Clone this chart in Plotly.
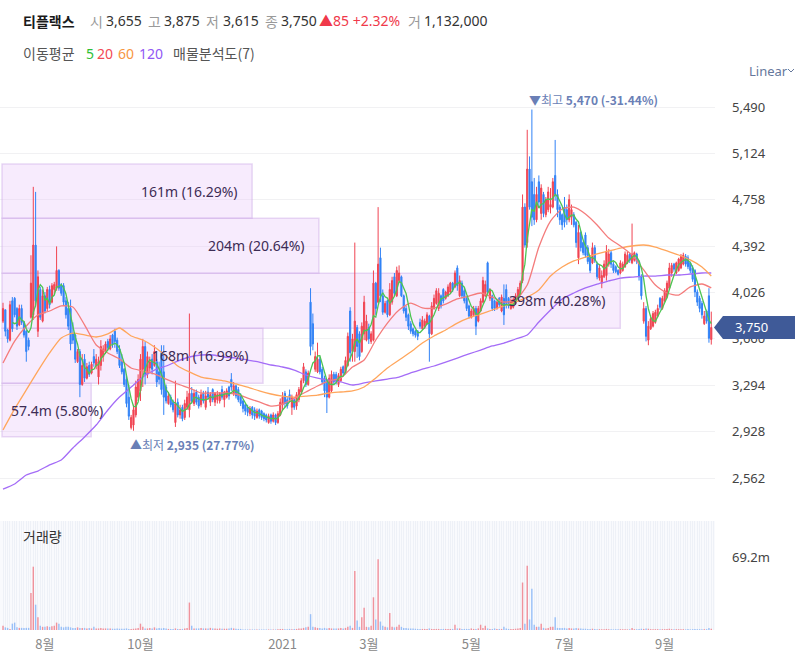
import plotly.graph_objects as go
import pandas as pd

# ---------------- data ----------------
open_ = [
    3800, 3890, 3730, 3650, 3960, 3980, 3900, 3770, 3900, 3790,
    3720, 3650, 3830, 3850, 4400, 3720, 4050, 3800, 4000, 3900,
    4050, 3950, 4050, 4060, 4200, 4080, 4080, 3960, 3900, 3900,
    3700, 3690, 3480, 3560, 3300, 3500, 3350, 3450, 3390, 3520,
    3450, 3360, 3450, 3520, 3560, 3640, 3580, 3690, 3720, 3650,
    3580, 3480, 3420, 3340, 3200, 2960, 2980, 3060, 3200, 3250,
    3420, 3600, 3380, 3430, 3500, 3450, 3480, 3400, 3550, 3400,
    3280, 3150, 3200, 3160, 3000, 3160, 3060, 3120, 3040, 3120,
    3100, 3230, 3150, 3240, 3200, 3140, 3230, 3120, 3240, 3160,
    3260, 3160, 3180, 3170, 3260, 3180, 3200, 3280, 3340, 3230,
    3290, 3260, 3210, 3170, 3140, 3120, 3070, 3120, 3100, 3040,
    3100, 3090, 3070, 3060, 3000, 3060, 3010, 3060, 3000, 3060,
    3140, 3230, 3180, 3220, 3120, 3180, 3130, 3180, 3240, 3330,
    3400, 3300, 3950, 3780, 3420, 3400, 3500, 3420, 3350, 3330,
    3200, 3250, 3380, 3380, 3300, 3330, 3440, 3390, 3450, 3880,
    3560, 3560, 3750, 3700, 3560, 3700, 3650, 3750, 3640, 3650,
    4100, 3950, 4300, 4000, 3870, 3960, 3850, 3950, 4150, 4000,
    4120, 4150, 4000, 3900, 3850, 3780, 3740, 3720, 3720, 3790,
    3740, 3760, 3780, 3840, 3700, 3900, 3940, 3900, 4000, 4050,
    3980, 4000, 4030, 4100, 4070, 4220, 4000, 4100, 4040, 3980,
    3920, 3830, 3850, 3900, 3800, 3880, 3950, 4000, 4260, 3980,
    4000, 3960, 3900, 3980, 3880, 3980, 4050, 3980, 3900, 3910,
    3940, 3980, 4010, 4120, 4700, 4420, 5000, 4900, 4800, 4600,
    4900, 4650, 4800, 4640, 4680, 4700, 4700, 4950, 4800, 4700,
    4640, 4700, 4680, 4600, 4620, 4640, 4580, 4300, 4500, 4420,
    4480, 4380, 4300, 4260, 4380, 4250, 4140, 4100, 4150, 4160,
    4250, 4340, 4250, 4230, 4200, 4180, 4200, 4230, 4260, 4330,
    4260, 4280, 4330, 4270, 4150, 3800, 3900, 3650, 3740, 3760,
    3790, 3840, 3980, 3900, 3960, 3990, 4060, 4180, 4250, 4180,
    4200, 4220, 4250, 4310, 4300, 4260, 4220, 4200, 4030, 3980,
    3940, 3780, 3880, 4000, 3655,
]
high = [
    3945, 3890, 3740, 3960, 3990, 3990, 3910, 3930, 3930, 3800,
    3730, 3670, 4320, 4860, 4820, 4200, 4070, 4050, 4030, 4070,
    4080, 4100, 4110, 4390, 4210, 4100, 4100, 3990, 3950, 3970,
    3790, 3700, 3580, 3580, 3540, 3540, 3470, 3480, 3480, 3580,
    3540, 3520, 3650, 3610, 3640, 3660, 3690, 3700, 3740, 3670,
    3610, 3540, 3430, 3380, 3300, 3060, 3140, 3330, 3380, 3540,
    3660, 3640, 3560, 3520, 3540, 3610, 3500, 3480, 3610, 3610,
    3300, 3240, 3220, 3180, 3330, 3190, 3140, 3140, 3180, 3250,
    3860, 3280, 3260, 3260, 3220, 3260, 3250, 3250, 3280, 3240,
    3270, 3240, 3250, 3240, 3290, 3250, 3270, 3290, 3390, 3320,
    3300, 3280, 3230, 3180, 3150, 3140, 3130, 3130, 3120, 3110,
    3110, 3100, 3080, 3070, 3070, 3070, 3080, 3070, 3090, 3190,
    3240, 3250, 3200, 3260, 3220, 3190, 3240, 3280, 3350, 3470,
    3420, 3410, 4060, 3860, 3560, 3630, 3520, 3440, 3370, 3335,
    3380, 3410, 3400, 3400, 3390, 3440, 3450, 3520, 3710, 3910,
    3700, 4420, 3770, 3720, 3790, 4000, 3850, 3780, 3720, 4200,
    4110, 4700, 4380, 4050, 3960, 3970, 4100, 4150, 4180, 4230,
    4240, 4160, 4010, 3920, 3860, 3800, 3750, 3730, 3730, 3820,
    3840, 3820, 3870, 3850, 3950, 4010, 4060, 4060, 4010, 4060,
    4040, 4090, 4110, 4110, 4200, 4240, 4160, 4120, 4060, 3990,
    3930, 3900, 3920, 3920, 3920, 3980, 4150, 4120, 4270, 4060,
    4010, 3970, 3960, 3990, 4010, 4090, 4090, 3990, 3980, 3990,
    4020, 4070, 4120, 4800, 4730, 5310, 5100, 5470, 4930, 4860,
    4950, 4880, 4820, 4780, 4860, 4850, 4930, 5230, 4840, 4720,
    4650, 4780, 4720, 4800, 4720, 4660, 4590, 4560, 4510, 4430,
    4500, 4400, 4310, 4420, 4400, 4270, 4250, 4200, 4280, 4400,
    4370, 4360, 4270, 4240, 4210, 4280, 4270, 4350, 4350, 4340,
    4570, 4350, 4340, 4280, 4170, 3950, 3920, 3800, 3850, 3880,
    3890, 3930, 3990, 4000, 4060, 4120, 4260, 4260, 4260, 4270,
    4300, 4330, 4340, 4330, 4320, 4270, 4240, 4210, 4050, 4000,
    3960, 3880, 3890, 4060, 3875,
]
low = [
    3785, 3680, 3630, 3640, 3715, 3830, 3730, 3760, 3770, 3670,
    3480, 3570, 3820, 3810, 3910, 3675, 3810, 3790, 3860, 3880,
    3900, 3940, 4010, 4040, 4040, 4000, 3920, 3820, 3730, 3570,
    3620, 3470, 3470, 3200, 3290, 3320, 3340, 3360, 3380, 3440,
    3420, 3300, 3410, 3480, 3540, 3570, 3570, 3590, 3590, 3540,
    3430, 3380, 3280, 3120, 3020, 2945, 2935, 3040, 3170, 3170,
    3280, 3300, 3350, 3400, 3380, 3440, 3280, 3300, 3220, 3060,
    3150, 3140, 3120, 3080, 2965, 3040, 3030, 3010, 3020, 3100,
    3040, 3150, 3130, 3140, 3110, 3120, 3150, 3100, 3180, 3130,
    3160, 3130, 3150, 3150, 3180, 3120, 3190, 3180, 3250, 3210,
    3190, 3160, 3130, 3080, 3060, 3050, 3050, 3030, 3020, 3030,
    3030, 3020, 3010, 3000, 2990, 2990, 3000, 2980, 2990, 3050,
    3100, 3120, 3110, 3160, 3060, 3100, 3100, 3160, 3220, 3310,
    3280, 3290, 3530, 3570, 3400, 3390, 3380, 3300, 3200, 3075,
    3190, 3240, 3300, 3300, 3280, 3320, 3370, 3380, 3440, 3480,
    3480, 3480, 3510, 3490, 3550, 3650, 3640, 3620, 3620, 3640,
    3850, 3940, 3950, 3850, 3860, 3830, 3840, 3930, 4000, 3990,
    4100, 3990, 3860, 3800, 3730, 3700, 3680, 3670, 3650, 3740,
    3730, 3740, 3770, 3480, 3690, 3890, 3930, 3880, 3900, 3940,
    3970, 3990, 4020, 4030, 4060, 4040, 3990, 3980, 3940, 3880,
    3820, 3820, 3840, 3690, 3790, 3870, 3940, 3990, 4010, 3960,
    3880, 3880, 3890, 3910, 3870, 3770, 3900, 3900, 3890, 3900,
    3930, 3970, 4000, 4100, 4380, 4380, 4680, 4550, 4560, 4580,
    4700, 4600, 4620, 4620, 4660, 4650, 4690, 4750, 4620, 4560,
    4520, 4540, 4560, 4580, 4560, 4540, 4380, 4250, 4350, 4320,
    4300, 4250, 4180, 4250, 4260, 4130, 4120, 4060, 4140, 4120,
    4230, 4220, 4180, 4180, 4160, 4170, 4190, 4220, 4250, 4260,
    4250, 4270, 4250, 4120, 3970, 3780, 3640, 3610, 3730, 3750,
    3780, 3830, 3890, 3890, 3950, 3980, 4050, 4150, 4190, 4170,
    4190, 4210, 4240, 4230, 4210, 4180, 4110, 3990, 3920, 3870,
    3820, 3770, 3780, 3630, 3615,
]
close = [
    3900, 3720, 3660, 3930, 3740, 3850, 3760, 3900, 3790, 3690,
    3560, 3600, 4100, 4400, 3960, 4150, 3830, 4000, 3880, 4050,
    3930, 4080, 4090, 4200, 4060, 4020, 3950, 3850, 3760, 3620,
    3650, 3500, 3560, 3300, 3450, 3350, 3440, 3380, 3460, 3470,
    3500, 3480, 3600, 3580, 3620, 3590, 3660, 3620, 3640, 3560,
    3450, 3400, 3300, 3150, 3050, 3040, 3100, 3280, 3340, 3500,
    3600, 3380, 3520, 3480, 3420, 3560, 3320, 3340, 3260, 3200,
    3170, 3210, 3140, 3100, 3150, 3060, 3100, 3030, 3150, 3200,
    3230, 3170, 3230, 3160, 3130, 3220, 3170, 3210, 3200, 3220,
    3180, 3230, 3220, 3230, 3200, 3240, 3250, 3210, 3280, 3290,
    3210, 3180, 3150, 3110, 3090, 3080, 3110, 3060, 3050, 3090,
    3050, 3040, 3030, 3020, 3050, 3010, 3060, 3000, 3070, 3160,
    3200, 3150, 3130, 3180, 3200, 3120, 3220, 3260, 3330, 3440,
    3300, 3390, 3600, 3620, 3520, 3500, 3400, 3320, 3250, 3200,
    3350, 3380, 3320, 3330, 3370, 3420, 3390, 3490, 3680, 3550,
    3660, 3800, 3600, 3520, 3760, 3950, 3800, 3660, 3700, 4100,
    3900, 4250, 4000, 3870, 3940, 3850, 4050, 4120, 4020, 4200,
    4180, 4000, 3880, 3830, 3760, 3720, 3700, 3690, 3680, 3760,
    3810, 3800, 3850, 3700, 3920, 3980, 4040, 4020, 3920, 3960,
    4030, 4070, 4100, 4050, 4180, 4080, 4120, 4000, 3960, 3900,
    3840, 3880, 3900, 3760, 3900, 3960, 4120, 4090, 4030, 4050,
    3900, 3900, 3950, 3930, 3990, 3850, 3940, 3920, 3960, 3970,
    4000, 4050, 4100, 4700, 4400, 5000, 4700, 4620, 4600, 4800,
    4740, 4850, 4650, 4760, 4820, 4720, 4900, 4800, 4680, 4600,
    4560, 4580, 4600, 4760, 4680, 4560, 4420, 4500, 4380, 4340,
    4320, 4270, 4200, 4380, 4280, 4150, 4220, 4160, 4250, 4350,
    4330, 4250, 4200, 4190, 4170, 4260, 4250, 4330, 4320, 4280,
    4330, 4340, 4270, 4150, 4000, 3900, 3680, 3760, 3820, 3860,
    3870, 3900, 3910, 3980, 4040, 4100, 4220, 4240, 4210, 4260,
    4290, 4310, 4320, 4250, 4230, 4200, 4130, 4030, 3950, 3900,
    3850, 3840, 3800, 3665, 3750,
]
volume_m = [
    4, 2.5, 2, 1, 6, 7, 2.5, 2, 2, 2,
    2, 2, 35, 60, 24, 12, 4, 3, 3, 3.5,
    3, 3.5, 4, 7, 6, 3, 2.5, 3, 3, 2.5,
    2, 2, 2.5, 2, 2, 2, 1.5, 2, 1.5, 3,
    1.5, 1.5, 1.8, 1.5, 1.5, 1.5, 1.5, 1.2, 1.2, 1.5,
    1.2, 1.2, 1.2, 1.5, 1, 1, 1.2, 1.5, 2, 6,
    3, 1.5, 1.5, 2, 1.5, 2.5, 1.5, 2, 1.5, 2,
    1.5, 1, 1, 1, 1.5, 1, 1, 1, 1.5, 2,
    26, 4, 1.5, 1.5, 1.5, 2, 1.5, 1.5, 1.5, 2,
    1.5, 1.5, 1.2, 1.5, 1.2, 1.2, 1.2, 1.5, 2, 1.5,
    1.2, 1, 1, 0.5, 0.5, 0.5, 0.5, 0.5, 0.5, 0.5,
    0.5, 0.5, 0.5, 0.5, 0.5, 0.5, 0.5, 0.5, 0.8, 1,
    1, 0.8, 0.8, 1, 0.8, 1, 1, 1.5, 1.5, 2,
    2.5, 3, 15, 3, 2.5, 2, 2, 1.5, 2, 1.5,
    2, 1.5, 1.5, 1.5, 1.5, 2, 1.5, 2, 3, 4,
    2, 56, 9, 3, 12, 21, 3, 2.5, 4, 31,
    10, 67, 8, 4, 3, 2.5, 16, 3, 2.5, 3,
    5, 3, 2, 2, 1.5, 1.5, 1.5, 1.2, 1, 1,
    1, 1, 1, 1.5, 1, 1, 1, 1, 1, 1,
    1, 1, 1, 1, 5, 1.5, 1.5, 1, 1, 1,
    1, 1.5, 1, 1, 1.5, 5, 2, 4, 1.5, 1,
    1, 1.5, 1, 1, 1, 3, 1.5, 1, 1, 1,
    1.2, 1.5, 2, 45, 6, 61, 10, 39, 5, 3,
    3, 6, 2, 1.5, 2, 3, 3, 12, 2, 2,
    2, 2, 1.5, 2, 1.5, 1.5, 2, 1.5, 1.5, 1.2,
    1.2, 1, 1, 1.2, 1, 0.8, 0.8, 0.8, 0.8, 1,
    0.8, 0.6, 0.6, 0.6, 0.6, 0.8, 0.6, 0.8, 0.6, 0.6,
    2, 0.8, 0.6, 1, 1.2, 1, 1.5, 1.2, 0.8, 0.8,
    0.8, 0.8, 0.6, 0.8, 0.8, 1, 1.2, 0.8, 0.6, 0.8,
    0.8, 0.8, 0.8, 0.6, 1, 0.6, 0.8, 1, 0.8, 0.8,
    0.8, 0.8, 0.8, 2, 1.132,
]
last_volume = 1132000

# moving averages every 5 sessions
ma_idx = [0, 5, 10, 15, 20, 25, 30, 35, 40, 45, 50, 55, 60, 65, 70, 75, 80, 85,
          90, 95, 100, 105, 110, 115, 120, 125, 130, 135, 140, 145, 150, 155,
          160, 165, 170, 175, 180, 185, 190, 195, 200, 205, 210, 215, 220, 225,
          230, 235, 240, 245, 250, 255, 260, 265, 270, 275, 280, 285, 290, 295,
          300, 304]
ma20 = [3470, 3643, 3762, 3848, 3880, 3920, 3912, 3770, 3612, 3549, 3501, 3430,
        3407, 3383, 3343, 3304, 3272, 3233, 3233, 3233, 3225, 3193, 3162, 3130,
        3146, 3193, 3241, 3288, 3328, 3351, 3438, 3493, 3651, 3785, 3888, 3943,
        3904, 3904, 3935, 3975, 3998, 4022, 3990, 3951, 3967, 4085, 4385, 4590,
        4685, 4700, 4646, 4559, 4456, 4393, 4322, 4204, 4085, 4022, 4006, 4070,
        4093, 4062]
ma60 = [2941, 3107, 3257, 3407, 3549, 3667, 3706, 3691, 3675, 3699, 3746, 3683,
        3651, 3596, 3525, 3446, 3399, 3359, 3343, 3328, 3304, 3280, 3249, 3225,
        3209, 3201, 3209, 3217, 3233, 3241, 3249, 3280, 3351, 3430, 3493, 3556,
        3627, 3683, 3730, 3785, 3825, 3856, 3888, 3920, 3951, 3990, 4046, 4156,
        4227, 4275, 4306, 4330, 4354, 4377, 4393, 4401, 4385, 4354, 4322, 4283,
        4227, 4156]
ma120 = [2475, 2515, 2586, 2617, 2665, 2704, 2799, 2886, 2980, 3099, 3201, 3280,
         3359, 3414, 3446, 3485, 3517, 3533, 3533, 3517, 3509, 3493, 3477, 3454,
         3438, 3414, 3375, 3351, 3335, 3320, 3296, 3312, 3328, 3343, 3359, 3391,
         3422, 3446, 3477, 3509, 3541, 3572, 3604, 3627, 3659, 3691, 3793, 3888,
         3975, 4022, 4062, 4093, 4117, 4140, 4148, 4156, 4156, 4164, 4164, 4172,
         4180, 4180]

tick_idx = [18, 59, 120, 157, 201, 241, 284]
tick_text = ["8월", "10월", "2021", "3월", "5월", "7월", "9월"]
price_ticks = [2562, 2928, 3294, 3660, 4026, 4392, 4758, 5124, 5490]

# volume profile (매물분석도)
profile_lo = [2888, 3309, 3744, 4178, 4612]
profile_hi = [3309, 3744, 4178, 4612, 5040]
profile_vol = [57.4, 168, 398, 204, 161]
profile_vol_text = ["57.4m", "168m", "398m", "204m", "161m"]
profile_pct = [5.80, 16.99, 40.28, 20.64, 16.29]

# ---------------- styling ----------------
UP = "#f04452"
DN = "#3182f6"
UPV = "rgba(240,68,82,0.55)"
DNV = "rgba(49,130,246,0.45)"
C5, C20, C60, C120 = "#4cc552", "#f47c7c", "#ffa65c", "#a46cf7"
FONT = "Noto Sans, Noto Sans CJK KR, sans-serif"
KFONT = "Noto Sans CJK KR, Noto Sans, sans-serif"

W, H = 795, 656
MR, MB = 80, 26
PW, PH = W - MR, H - MB


def px_x(px):
    return px / PW


def px_y(py):
    return (PH - py) / PH


price_dom = [px_y(505), px_y(88)]
vol_dom = [0, px_y(521)]
price_range = [2349, 5640]
idx_range = [-1.29, 305.6]
vol_range = [0, 103.3]
profile_range = [-1.3, 459.0]

N = len(close)
idx = list(range(N))
ma5 = pd.Series(close).rolling(5).mean()

fig = go.Figure()

# volume profile bars (base subplot, drawn below the candles)
centers = [(a + b) / 2 for a, b in zip(profile_lo, profile_hi)]
heights = [b - a for a, b in zip(profile_lo, profile_hi)]
fig.add_trace(go.Bar(
    x=profile_vol, y=centers, width=heights, orientation="h",
    xaxis="x", yaxis="y",
    marker=dict(color="rgba(232,200,250,0.36)",
                line=dict(color="rgba(205,170,230,0.45)", width=1.5)),
    hoverinfo="skip", showlegend=False,
))

# candles
fig.add_trace(go.Candlestick(
    x=idx, open=open_, high=high, low=low, close=close,
    xaxis="x3", yaxis="y",
    increasing=dict(line=dict(color=UP, width=1), fillcolor=UP),
    decreasing=dict(line=dict(color=DN, width=1), fillcolor=DN),
    whiskerwidth=0, hoverinfo="skip", showlegend=False,
))

# moving averages
for xs, ys, col in [(ma_idx, ma120, C120), (ma_idx, ma60, C60), (ma_idx, ma20, C20)]:
    fig.add_trace(go.Scatter(x=xs, y=ys, mode="lines", xaxis="x3", yaxis="y",
                             line=dict(color=col, width=1.3, shape="spline", smoothing=0.6),
                             hoverinfo="skip", showlegend=False))
fig.add_trace(go.Scatter(x=idx, y=ma5, mode="lines", xaxis="x3", yaxis="y",
                         line=dict(color=C5, width=1.3),
                         hoverinfo="skip", showlegend=False))

# volume bars
vcolors = [UPV if c >= o else DNV for o, c in zip(open_, close)]
fig.add_trace(go.Bar(x=idx, y=volume_m, xaxis="x2", yaxis="y2", width=0.62,
                     marker=dict(color=vcolors, line=dict(width=0)),
                     hoverinfo="skip", showlegend=False))

ann = []


def txt(text, px, py, color, size=14, family=FONT, anchor="left"):
    ann.append(dict(text=text, x=px_x(px), y=px_y(py), xref="paper", yref="paper",
                    xanchor=anchor, yanchor="middle", showarrow=False,
                    font=dict(size=size, color=color, family=family)))


GRAY = "#9a9a9a"
DARK = "#333333"
chg = close[-1] - close[-2]
pct = chg / close[-2] * 100
txt("<b>티플랙스</b>", 21, 21, "#1a1a1a", family=KFONT)
txt("시", 88, 21, GRAY, family=KFONT)
txt(f"{open_[-1]:,}", 104, 21, DARK)
txt("고", 146, 21, GRAY, family=KFONT)
txt(f"{high[-1]:,}", 162, 21, DARK)
txt("저", 204, 21, GRAY, family=KFONT)
txt(f"{low[-1]:,}", 221, 21, DARK)
txt("종", 263, 21, GRAY, family=KFONT)
txt(f"{close[-1]:,}", 279, 21, DARK)
txt(f"▲{chg} +{pct:.2f}%", 317, 21, "#f0394a")
txt("거", 406, 21, GRAY, family=KFONT)
txt(f"{last_volume:,}", 422, 21, DARK)

txt("이동평균", 21, 53, "#555555", family=KFONT)
txt("5", 84, 53, "#2fbf36")
txt("20", 95, 53, "#f24a55")
txt("60", 116, 53, "#f7963f")
txt("120", 137, 53, "#9257f5")
txt("매물분석도(7)", 171, 53, "#555555", family=KFONT)

txt("Linear", 747, 71, "#65779b", size=13)
txt("거래량", 21, 536, DARK, family=KFONT)

# profile labels
for v, c, t, p in zip(profile_vol, centers, profile_vol_text, profile_pct):
    inside = v > 100
    ann.append(dict(text=f"{t} ({p:.2f}%)", x=v if inside else 0, y=c, xref="x", yref="y",
                    xanchor="right" if inside else "left", yanchor="middle",
                    xshift=-12 if inside else 7, showarrow=False,
                    font=dict(size=14, color="#3d2c55", family=FONT)))

# high / low markers
hi_i = high.index(max(high))
lo_i = low.index(min(low))
last = close[-1]
ann.append(dict(text=f"▼최고 <b>{max(high):,} ({(last - max(high)) / max(high) * 100:.2f}%)</b>",
                x=hi_i, y=max(high), xref="x3", yref="y", xanchor="left", yanchor="bottom",
                xshift=-5, yshift=0, showarrow=False,
                font=dict(size=12, color="#6a7fb6", family=KFONT)))
ann.append(dict(text=f"▲최저 <b>{min(low):,} ({(last - min(low)) / min(low) * 100:.2f}%)</b>",
                x=lo_i, y=min(low), xref="x3", yref="y", xanchor="left", yanchor="top",
                xshift=-5, yshift=-3, showarrow=False,
                font=dict(size=12, color="#6a7fb6", family=KFONT)))


# current price tag
def price_paper(p):
    return price_dom[0] + (p - price_range[0]) / (price_range[1] - price_range[0]) * (price_dom[1] - price_dom[0])


yc = price_paper(last)
hh = 11.5 / PH
tag_path = (f"M {px_x(714)},{yc} L {px_x(723)},{yc + hh} L {px_x(800)},{yc + hh} "
            f"L {px_x(800)},{yc - hh} L {px_x(723)},{yc - hh} Z")
shapes = [
    dict(type="rect", xref="x2 domain", yref="y2 domain", x0=0, x1=1, y0=0, y1=1,
         fillcolor="#f9fafd", line=dict(width=0), layer="below"),
    dict(type="path", path=tag_path, xref="paper", yref="paper",
         fillcolor="#3f5a98", line=dict(width=0), layer="above"),
    dict(type="path", xref="paper", yref="paper",
         path=f"M {px_x(788)},{px_y(69)} L {px_x(791)},{px_y(72)} L {px_x(794)},{px_y(69)}",
         line=dict(color="#65779b", width=1)),
]
ann.append(dict(text=f"{last:,}", x=px_x(733), y=last, xref="paper", yref="y",
                xanchor="left", yanchor="middle", showarrow=False,
                font=dict(size=13, color="white", family=FONT)))

fig.update_layout(
    width=W, height=H,
    margin=dict(l=0, r=MR, t=0, b=MB),
    paper_bgcolor="white", plot_bgcolor="white",
    hovermode=False, showlegend=False,
    font=dict(family=FONT),
    xaxis=dict(domain=[0, 1], range=profile_range, visible=False, anchor="y", fixedrange=True),
    xaxis3=dict(overlaying="x", range=idx_range, visible=False, anchor="y",
                rangeslider=dict(visible=False)),
    yaxis=dict(domain=price_dom, range=price_range, side="right", anchor="x",
               tickvals=price_ticks, ticktext=[f"{v:,}" for v in price_ticks],
               showgrid=True, gridcolor="#f1f1f3", gridwidth=1, zeroline=False,
               showline=False, ticks="", ticklabelstandoff=16,
               tickfont=dict(size=13, color="#444444", family=FONT)),
    xaxis2=dict(domain=[0, 1], anchor="y2", range=idx_range,
                tickvals=tick_idx, ticktext=tick_text, showgrid=False, zeroline=False,
                showline=False, ticks="", ticklabelstandoff=5,
                tickfont=dict(size=13, color="#888888", family=KFONT),
                minor=dict(tick0=0, dtick=1, showgrid=True, gridcolor="#eef1f7", gridwidth=1),
                rangeslider=dict(visible=False)),
    yaxis2=dict(domain=vol_dom, range=vol_range, side="right", anchor="x2",
                tickvals=[69.2], ticktext=["69.2m"], showgrid=False, zeroline=False,
                showline=False, ticks="", ticklabelstandoff=16,
                tickfont=dict(size=13, color="#444444", family=FONT)),
    annotations=ann,
    shapes=shapes,
)

fig.write_html(
    "out.html",
    config={"displayModeBar": False},
    post_script="document.body.style.margin='0';document.body.style.overflow='hidden';",
)
